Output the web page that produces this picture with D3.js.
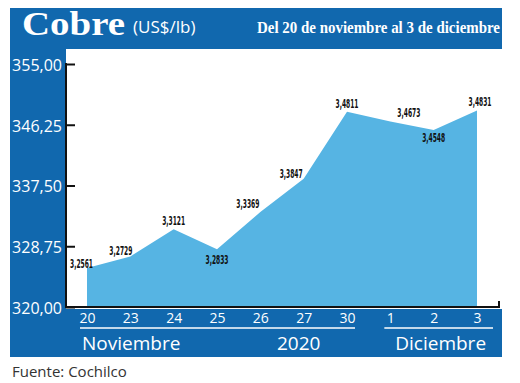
<!DOCTYPE html>
<html>
<head>
<meta charset="utf-8">
<script src="https://cdn.jsdelivr.net/npm/d3@7"></script>
<style>
  body { margin: 0; background: #fff; }
  text { font-family: "Open Sans", sans-serif; }
</style>
</head>
<body>
<div id="chart"></div>
<script>
// Cobre, US$/lb, 20 nov - 3 dic 2020
const days = ["20", "23", "24", "25", "26", "27", "30", "1", "2", "3"];
const prices = [3.2561, 3.2729, 3.3121, 3.2833, 3.3369, 3.3847, 3.4811, 3.4673, 3.4548, 3.4831];
const yTicks = [320, 328.75, 337.5, 346.25, 355];
const months = ["Noviembre", "2020", "Diciembre"];

const width = 520, height = 383;
const blue = "#1168ae", light = "#56b4e3";

const svg = d3.select("#chart")
    .append("svg")
    .attr("width", width)
    .attr("height", height);

const x = d3.scalePoint()
    .domain(days)
    .range([87, 477]);

const y = d3.scaleLinear()
    .domain([320, 355])
    .range([307, 64]);

const es = d3.formatLocale({decimal: ",", thousands: ".", grouping: [3], currency: ["", ""]});
const fmt2 = es.format(".2f");
const fmt4 = es.format(".4f");

// frame
svg.append("rect").attr("x", 10).attr("y", 8).attr("width", 492).attr("height", 41).attr("fill", blue);
svg.append("rect").attr("x", 10).attr("y", 48).attr("width", 56).attr("height", 262).attr("fill", blue);
svg.append("rect").attr("x", 10).attr("y", 309).attr("width", 492).attr("height", 48).attr("fill", blue);

// title
svg.append("text")
    .attr("x", 22).attr("y", 35)
    .attr("textLength", 103).attr("lengthAdjust", "spacingAndGlyphs")
    .style("font-family", "'Liberation Serif', serif")
    .style("font-weight", "bold")
    .style("font-size", "33px")
    .attr("fill", "#fff")
    .text("Cobre");
svg.append("text")
    .attr("x", 133).attr("y", 33)
    .style("font-size", "17px")
    .attr("fill", "#fff")
    .text("(US$/lb)");
svg.append("text")
    .attr("x", 500).attr("y", 33)
    .attr("text-anchor", "end")
    .attr("textLength", 243).attr("lengthAdjust", "spacingAndGlyphs")
    .style("font-family", "'Liberation Serif', serif")
    .style("font-weight", "bold")
    .style("font-size", "16px")
    .attr("fill", "#fff")
    .text("Del 20 de noviembre al 3 de diciembre");

// area
const area = d3.area()
    .x((d, i) => x(days[i]))
    .y0(y(320))
    .y1(d => y(d * 100));

svg.append("path")
    .datum(prices)
    .attr("d", area)
    .attr("fill", light);

// y axis
const yAxis = svg.append("g")
    .attr("transform", "translate(66,0)")
    .call(d3.axisLeft(y).tickValues(yTicks).tickSize(-9).tickPadding(4).tickFormat(fmt2));
yAxis.select(".domain").remove();
yAxis.selectAll(".tick line").attr("stroke", "#111").attr("stroke-width", 2);
yAxis.selectAll(".tick text")
    .attr("fill", "#fff")
    .style("font-size", "16px")
    .attr("dy", "0.4em");
svg.append("line")
    .attr("x1", 66).attr("x2", 66)
    .attr("y1", y(355) - 1).attr("y2", y(320) + 1)
    .attr("stroke", "#111").attr("stroke-width", 2);

// x axis
svg.append("path")
    .attr("d", `M66,${y(320)}H499V${y(320) - 6}`)
    .attr("fill", "none")
    .attr("stroke", "#111").attr("stroke-width", 2);

const xAxis = svg.append("g")
    .attr("transform", `translate(0,${y(320)})`)
    .call(d3.axisBottom(x).tickSize(0).tickPadding(6));
xAxis.select(".domain").remove();
xAxis.selectAll(".tick text")
    .attr("fill", "#fff")
    .style("font-size", "14px");

// month rules and labels
svg.append("line")
    .attr("x1", x("20") - 7).attr("x2", x("30") + 8)
    .attr("y1", 328).attr("y2", 328)
    .attr("stroke", "#fff").attr("stroke-width", 1.5);
svg.append("line")
    .attr("x1", x("1") - 6).attr("x2", x("3") + 16)
    .attr("y1", 328).attr("y2", 328)
    .attr("stroke", "#fff").attr("stroke-width", 1.5);

svg.selectAll(".month")
    .data(months)
    .enter()
    .append("text")
    .attr("class", "month")
    .attr("x", (d, i) => [x("20") - 5, x("27") - 5, x("2") + 7][i])
    .attr("y", 350)
    .attr("text-anchor", (d, i) => i === 0 ? "start" : "middle")
    .attr("fill", "#fff")
    .style("font-size", "19px")
    .text(d => d);

// value labels
const place = ["left", "left", "above", "below", "left", "left", "above", "right", "below", "above"];
svg.selectAll(".val")
    .data(prices)
    .enter()
    .append("text")
    .attr("class", "val")
    .attr("x", (d, i) => {
        const px = x(days[i]);
        if (place[i] === "left") return px + (i === 0 ? 6 : i === 1 ? 2 : -1);
        if (place[i] === "right") return px + 7;
        return px + (i === 9 ? 3 : 0);
    })
    .attr("y", (d, i) => {
        const py = y(d * 100);
        if (place[i] === "below") return py + (i === 3 ? 15 : 12);
        if (place[i] === "left") return py - (i === 0 ? 0 : i === 4 ? 4 : 1);
        return py - 4;
    })
    .attr("text-anchor", (d, i) => place[i] === "left" ? "end" : place[i] === "right" ? "start" : "middle")
    .attr("textLength", 23).attr("lengthAdjust", "spacingAndGlyphs")
    .style("font-family", "'Liberation Sans Narrow', 'DejaVu Sans Condensed', sans-serif")
    .style("font-weight", "bold")
    .style("font-size", "13px")
    .attr("fill", "#111")
    .text(d => fmt4(d));

// source
svg.append("text")
    .attr("x", 12).attr("y", 377)
    .style("font-size", "15px")
    .attr("fill", "#333")
    .text("Fuente: Cochilco");
</script>
</body>
</html>
